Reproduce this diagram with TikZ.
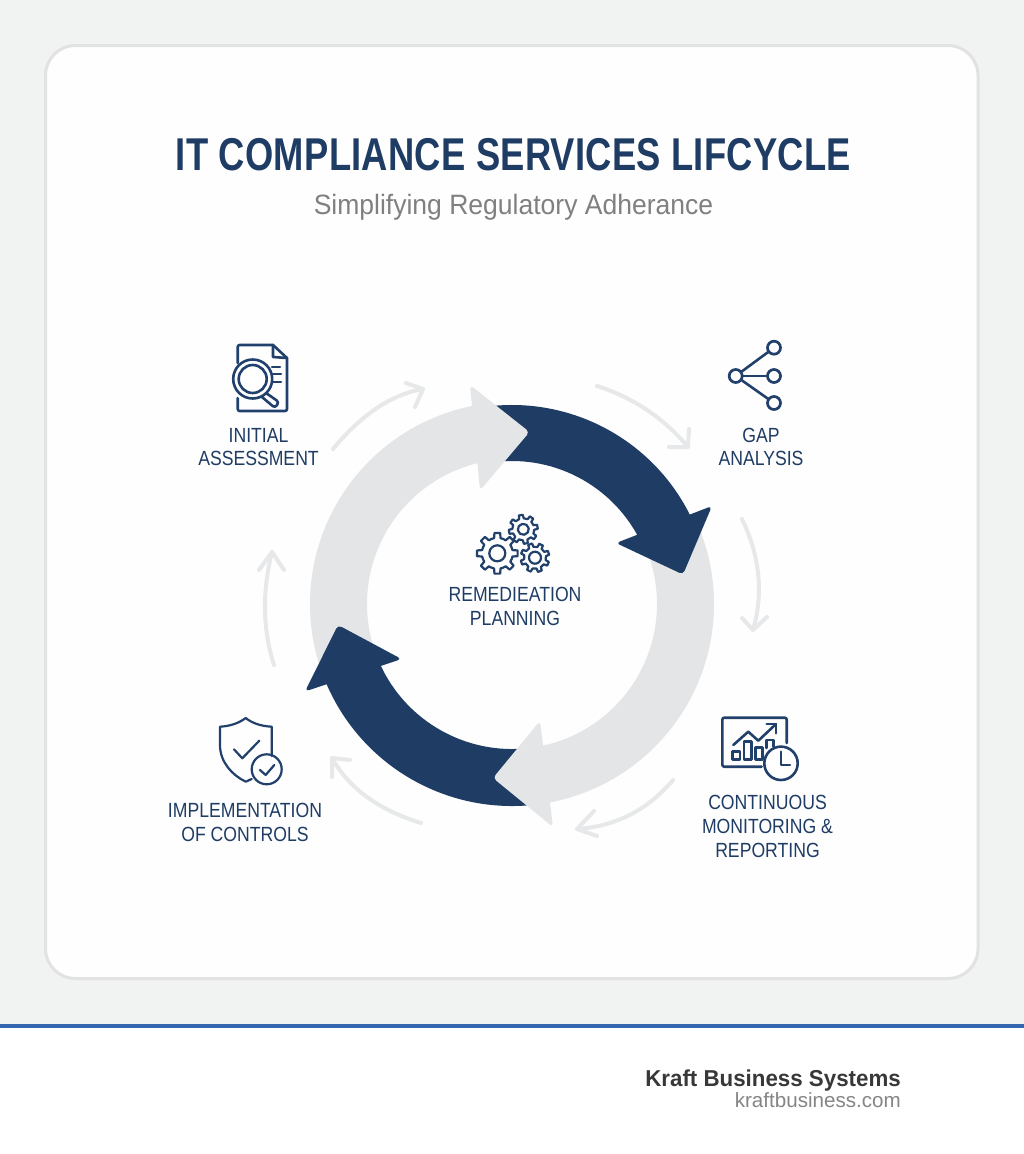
\documentclass[tikz,border=0pt]{standalone}
\usepackage{fontspec}
\setmainfont{Liberation Sans}
\newfontfamily\titlef[FakeStretch=0.79,LetterSpace=0.6]{Liberation Sans}
\newfontfamily\labelf[FakeStretch=0.86]{Liberation Sans}
\newfontfamily\subf[FakeStretch=0.947]{Liberation Sans}
\newfontfamily\brandf[FakeStretch=0.97]{Liberation Sans}
\definecolor{navy}{HTML}{1E3C64}
\definecolor{iconnavy}{HTML}{21406C}
\definecolor{ringgrey}{HTML}{E3E5E6}
\definecolor{thingrey}{HTML}{E6E8E9}
\definecolor{pagebg}{HTML}{F1F2F2}
\definecolor{cardface}{HTML}{FEFEFE}
\definecolor{cardedge}{HTML}{E2E2E2}
\definecolor{barblue}{HTML}{3566B0}
\tikzset{
  icon/.style={draw=iconnavy,line width=2.6pt,line cap=round,line join=round},
  iconnode/.style={circle,draw=iconnavy,line width=2.7pt,fill=white,minimum size=13pt,inner sep=0pt},
  label/.style={text=navy,align=center,font=\labelf\fontsize{20.5}{23.7}\selectfont,inner sep=0pt},
  thinarrow/.style={draw=thingrey,line width=4pt,line cap=round,line join=round},
}
\usetikzlibrary{calc}
\newcommand{\ringtail}[5]{% fill, start, end, router, rinner
  \fill[#1] (c)+(#2:#4) arc[start angle=#2,end angle=#3,radius=#4]
     -- ($(c)+(#3:#5)$) arc[start angle=#3,end angle=#2,radius=#5] -- cycle;}
\newcommand{\gearicon}[6]{% x,y,ro,ri,hole,rot
  \begin{scope}[shift={(#1,#2)},rotate=#6]
    \draw[icon,line width=2.2pt] (-12:#4)
      \foreach \a in {0,45,...,315}{ -- (\a-12:#4) -- (\a-8:#3) -- (\a+8:#3) -- (\a+12:#4) arc[start angle=\a+12,end angle=\a+33,radius=#4] } -- cycle;
    \draw[icon,line width=2.2pt] (0,0) circle[radius=#5];
  \end{scope}}
\newcommand{\thinarc}[6]{% name, start, control, end, barb1, barb2
  \coordinate (#1s) at #2; \coordinate (#1c) at #3; \coordinate (#1e) at #4;
  \coordinate (#1p) at #5; \coordinate (#1q) at #6;
  \draw[thinarrow] (#1s) .. controls ($(#1s)!0.667!(#1c)$) and ($(#1e)!0.667!(#1c)$) .. (#1e);
  \draw[thinarrow] (#1p) -- (#1e) -- (#1q);}
\begin{document}
\begin{tikzpicture}[x=1pt,y=-1pt]
\useasboundingbox (0,0) rectangle (1024,1154);
\fill[pagebg] (0,0) rectangle (1024,1026);
\fill[white] (0,1026) rectangle (1024,1154);
\fill[barblue] (0,1024) rectangle (1024,1027.5);
\draw[cardedge,fill=cardface,line width=3pt,rounded corners=30pt] (45.5,45.5) rectangle (978,978.5);

\node[text=navy,inner sep=0pt,font=\titlef\bfseries\fontsize{46}{50}\selectfont] (title) at (513.5,155) {IT COMPLIANCE SERVICES LIFCYCLE};
\node[text=black!50,inner sep=0pt,font=\subf\fontsize{28}{32}\selectfont] (subtitle) at (513.5,207) {Simplifying Regulatory Adherance};

% ring
\coordinate (c) at (512,604);
\ringtail{ringgrey}{155}{262}{202}{145}
\ringtail{ringgrey}{335}{442}{202}{145}
\ringtail{navy}{260}{335}{199}{143}
\fill[navy,rounded corners=4pt] (712,506) -- (683,574.5) -- (616,543) -- cycle;
\ringtail{navy}{80}{157}{202}{145}
\fill[navy,rounded corners=4pt] (305,691.5) -- (338,625) -- (401.5,659) -- cycle;
\fill[ringgrey,rounded corners=4pt] (470,385) -- (529.5,432) -- (480,490.5) -- cycle;
\fill[ringgrey,rounded corners=4pt] (540,721) -- (493,778) -- (553,827) -- cycle;

% thin arrows
\thinarc{aa}{(333,449)}{(376,397)}{(423,389)}{(406,383)}{(415,407)}
\thinarc{ab}{(597,386)}{(651.5,403.5)}{(688,447)}{(689,429)}{(669,447)}
\thinarc{ac}{(742,519)}{(769,575.5)}{(753,630)}{(742,618)}{(767,617)}
\thinarc{ad}{(673,780)}{(635,825)}{(577,829)}{(594,811)}{(597,836)}
\thinarc{ae}{(421,823)}{(357.5,803.5)}{(332,758)}{(350,760)}{(332,777)}
\thinarc{af}{(274,665)}{(257,611.5)}{(272,552)}{(259,570)}{(284,570)}

% document icon
\draw[icon] (237.7,363) -- (237.7,347) arc[start angle=180,end angle=270,radius=2] -- (273,345) -- (287,358) -- (287,409) arc[start angle=0,end angle=90,radius=2] -- (239.7,411) arc[start angle=90,end angle=180,radius=2] -- (237.7,398);
\draw[icon] (273,345) -- (273,357) -- (287,358);
\fill[white] (252.7,379) circle[radius=20];
\draw[icon] (252.7,379) circle[radius=19.5];
\draw[icon] (252.7,379) circle[radius=14];
\draw[icon] (272,367) -- (280,367) (273,374) -- (281,374) (273,382) -- (281,382);
\draw[icon,rounded corners=3pt] (266,393) -- (279,402) -- (275,408) -- (262,397);

% share icon
\node[iconnode] (hub) at (735.7,376) {};
\node[iconnode] (leafa) at (774,347.7) {};
\node[iconnode] (leafb) at (774,376) {};
\node[iconnode] (leafc) at (774,403) {};
\draw[icon] (hub) -- (leafa); \draw[icon] (hub) -- (leafb); \draw[icon] (hub) -- (leafc);

% gears
\gearicon{497.3}{553.3}{20.5}{15.5}{8}{0}
\gearicon{523.3}{529.3}{14.5}{11}{5.5}{10}
\gearicon{535}{557.7}{14.5}{11}{6}{20}

% shield
\draw[icon,line width=2.2pt] (271.7,756) -- (271.7,726.7) .. controls (260,726) and (252,723) .. (245.7,718) .. controls (239,723) and (231,726) .. (220,726.7) -- (220,745) .. controls (220,762) and (232,775) .. (245.7,781.7) -- (251.7,779);
\draw[icon,line width=2.2pt] (234,749.3) -- (242.3,758.3) -- (259.3,740.7);
\draw[icon,line width=2.2pt] (266.7,769.3) circle[radius=15];
\draw[icon,line width=2.2pt] (260,770) -- (265.7,775) -- (274.3,765);

% chart
\draw[icon] (786.7,743) -- (786.7,719.7) arc[start angle=0,end angle=-90,radius=2] -- (724.3,717.7) arc[start angle=-90,end angle=-180,radius=2] -- (722.3,764.7) arc[start angle=180,end angle=90,radius=2] -- (761.7,766.7);
\draw[icon] (733.3,745) -- (748.3,731.7) -- (758.3,740.7) -- (776,724);
\draw[icon] (766.7,724) -- (776,724) -- (776,733.3);
\draw[icon] (732.7,751.7) rectangle (740,759.3);
\draw[icon] (744,741.7) rectangle (751.7,759.3);
\draw[icon] (755.7,747.7) rectangle (762.3,759.3);
\draw[icon] (766.7,748) -- (766.7,740) -- (773.3,740) -- (773.3,746.7);
\draw[icon,fill=white] (781,763.3) circle[radius=16.7];
\draw[icon] (781,751.7) -- (781,765) -- (790,765);

% labels
\node[label] (initial) at (258.5,447) {INITIAL\\ASSESSMENT};
\node[label] (gap) at (761,447) {GAP\\ANALYSIS};
\node[label] (remed) at (515,606.5) {REMEDIEATION\\PLANNING};
\node[label] (impl) at (245,822.5) {IMPLEMENTATION\\OF CONTROLS};
\node[label] (cont) at (767.5,826.5) {CONTINUOUS\\MONITORING \&\\REPORTING};

% footer
\node[anchor=base east,inner sep=0pt,text=black!78,font=\brandf\bfseries\fontsize{23}{26}\selectfont] (brand) at (901,1086) {Kraft Business Systems};
\node[anchor=base east,inner sep=0pt,text=black!48,font=\fontsize{20.6}{22}\selectfont] (url) at (901,1107) {kraftbusiness.com};
\end{tikzpicture}
\end{document}
